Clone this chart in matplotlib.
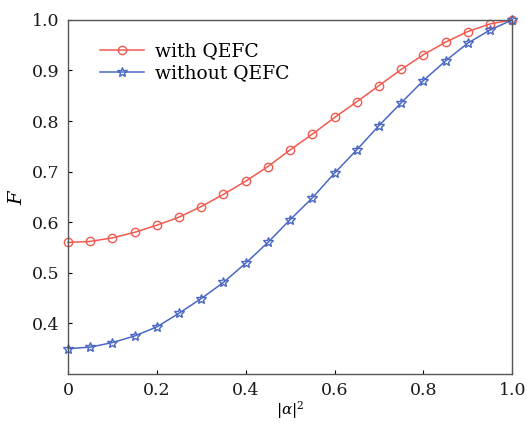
import numpy as np
import matplotlib
matplotlib.use("Agg")
from matplotlib import pyplot as plt

# |alpha|^2 grid and fidelity values
alpha_sq = [0.00, 0.05, 0.10, 0.15, 0.20, 0.25, 0.30, 0.35, 0.40, 0.45, 0.50,
            0.55, 0.60, 0.65, 0.70, 0.75, 0.80, 0.85, 0.90, 0.95, 1.00]
f_with = [0.560, 0.562, 0.569, 0.580, 0.594, 0.610, 0.631, 0.655, 0.681, 0.710, 0.743,
          0.774, 0.807, 0.838, 0.870, 0.902, 0.931, 0.956, 0.977, 0.992, 1.000]
f_without = [0.350, 0.353, 0.362, 0.375, 0.393, 0.420, 0.449, 0.481, 0.519, 0.560, 0.605,
             0.648, 0.697, 0.743, 0.791, 0.836, 0.880, 0.919, 0.954, 0.980, 1.000]

xticks = [0, 0.2, 0.4, 0.6, 0.8, 1.0]
xtick_labels = ['0', '0.2', '0.4', '0.6', '0.8', '1.0']
yticks = [0.4, 0.5, 0.6, 0.7, 0.8, 0.9, 1.0]

plt.rcParams['font.family'] = ['DejaVu Serif']
plt.rcParams['mathtext.fontset'] = 'dejavuserif'

fig = plt.figure(figsize=(5.27, 4.23), dpi=100)
ax = fig.add_axes([0.129, 0.116, 0.843, 0.837])

ax.plot(alpha_sq, f_with, color='#f25a50', lw=1.1, marker='o', ms=6,
        mfc='none', mec='#f25a50', mew=1.0, label='with QEFC', clip_on=False)
ax.plot(alpha_sq, f_without, color='#4a68c4', lw=1.1, marker='*', ms=7,
        mfc='none', mec='#4a68c4', mew=1.0, label='without QEFC', clip_on=False)

ax.set_xlim(0, 1.0)
ax.set_ylim(0.3, 1.0)
ax.set_xticks(xticks)
ax.set_xticklabels(xtick_labels)
ax.set_yticks(yticks)
ax.tick_params(direction='in', length=3, width=0.8, labelsize=12.5, pad=6,
               labelcolor='#1a1a1a')
for sp in ax.spines.values():
    sp.set_color('#555555')
    sp.set_linewidth(1.0)

ax.set_xlabel(r'$|\alpha|^2$', fontsize=11, labelpad=0)
ax.set_ylabel(r'$F$', fontsize=14, labelpad=4)

ax.legend(loc='upper left', bbox_to_anchor=(0.035, 0.985), frameon=False,
          fontsize=13.5, handlelength=2.3, handletextpad=0.6, labelspacing=0.22)

fig.savefig('out.png', dpi=100)
